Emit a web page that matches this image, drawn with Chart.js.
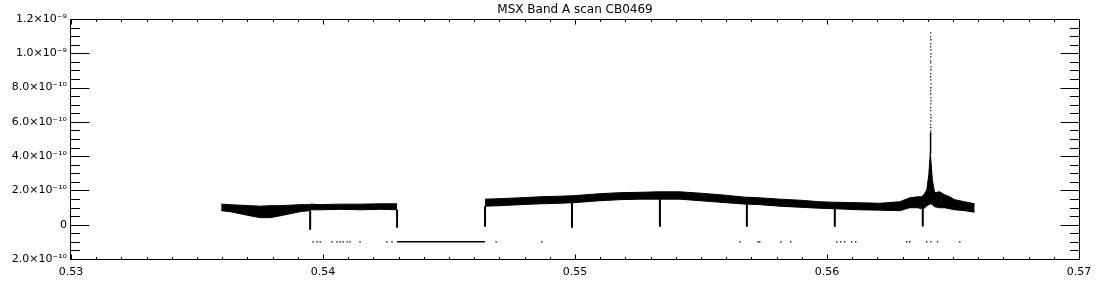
<!DOCTYPE html>
<html>
<head>
<meta charset="utf-8">
<script src="https://cdn.jsdelivr.net/npm/chart.js@4/dist/chart.umd.min.js"></script>
<style>
  body { margin: 0; background: #fff; }
  canvas { display: block; }
</style>
</head>
<body>
<canvas id="chart" width="1100" height="300" style="width:1100px;height:300px"></canvas>
<script>
// axis ticks (majors carry a label, minors are drawn as short marks)
var xMajor = [0.53, 0.54, 0.55, 0.56, 0.57];
var xTickLabels = ['0.53', '0.54', '0.55', '0.56', '0.57'];
var yMajor = [-2e-10, 0, 2e-10, 4e-10, 6e-10, 8e-10, 1.0e-9, 1.2e-9];
var yTickLabels = ['2.0×10⁻¹⁰', '0', '2.0×10⁻¹⁰', '4.0×10⁻¹⁰', '6.0×10⁻¹⁰', '8.0×10⁻¹⁰', '1.0×10⁻⁹', '1.2×10⁻⁹'];
var X_MINOR = 10, Y_MINOR = 4;

// first scan segment: upper / lower edge of the noise band
var seg1X = [0.53596, 0.53632, 0.53671, 0.53711, 0.53751, 0.53790, 0.53830, 0.53870,
             0.53909, 0.53945, 0.53953, 0.53989, 0.54068, 0.54147, 0.54227, 0.54294];
var seg1Hi = [1.20e-10, 1.17e-10, 1.14e-10, 1.11e-10, 1.08e-10, 1.11e-10, 1.11e-10, 1.14e-10,
              1.17e-10, 1.17e-10, 1.20e-10, 1.17e-10, 1.20e-10, 1.20e-10, 1.22e-10, 1.22e-10];
var seg1Lo = [8.2e-11, 7.6e-11, 6.4e-11, 5.2e-11, 4.1e-11, 4.1e-11, 5.2e-11, 6.4e-11,
              7.6e-11, 8.2e-11, 8.7e-11, 8.7e-11, 9.0e-11, 8.7e-11, 9.0e-11, 8.7e-11];

// second scan segment
var seg2X = [0.54643, 0.54702, 0.54782, 0.54861, 0.54940, 0.54984, 0.54992, 0.55099, 0.55178,
             0.55258, 0.55333, 0.55341, 0.55416, 0.55496, 0.55575, 0.55678, 0.55686, 0.55733,
             0.55813, 0.55892, 0.55971, 0.56027, 0.56035, 0.56130, 0.56209, 0.56289, 0.56328,
             0.56360, 0.56376, 0.56384, 0.56396, 0.56404, 0.56410, 0.56418, 0.56427, 0.56447,
             0.56467, 0.56487, 0.56507, 0.56546, 0.56586];
var seg2Hi = [1.49e-10, 1.52e-10, 1.57e-10, 1.63e-10, 1.66e-10, 1.69e-10, 1.69e-10, 1.81e-10, 1.87e-10,
              1.89e-10, 1.92e-10, 1.92e-10, 1.92e-10, 1.84e-10, 1.75e-10, 1.60e-10, 1.60e-10, 1.57e-10,
              1.49e-10, 1.43e-10, 1.34e-10, 1.31e-10, 1.31e-10, 1.28e-10, 1.25e-10, 1.34e-10, 1.57e-10,
              1.63e-10, 1.63e-10, 1.75e-10, 2.04e-10, 2.92e-10, 4.20e-10, 2.62e-10, 1.87e-10, 1.92e-10,
              1.75e-10, 1.63e-10, 1.46e-10, 1.34e-10, 1.22e-10];
var seg2Lo = [1.08e-10, 1.11e-10, 1.17e-10, 1.22e-10, 1.25e-10, 1.28e-10, 1.28e-10, 1.40e-10, 1.46e-10,
              1.49e-10, 1.49e-10, 1.49e-10, 1.49e-10, 1.40e-10, 1.31e-10, 1.20e-10, 1.20e-10, 1.17e-10,
              1.08e-10, 1.02e-10, 9.6e-11, 9.3e-11, 9.3e-11, 8.7e-11, 8.5e-11, 8.2e-11, 9.9e-11,
              9.9e-11, 9.3e-11, 9.3e-11, 1.11e-10, 1.17e-10, 1.22e-10, 1.17e-10, 1.05e-10, 9.9e-11,
              9.9e-11, 9.3e-11, 8.7e-11, 8.2e-11, 7.3e-11];

// downward glitches at the segment joins
var dipX = [0.53949, 0.54294, 0.54643, 0.54988, 0.55337, 0.55682, 0.56031, 0.56380];
var dipTop = [8.2e-11, 8.7e-11, 1.08e-10, 1.28e-10, 1.49e-10, 1.20e-10, 9.3e-11, 9.3e-11];
var dipBottom = [-2.9e-11, -1.7e-11, -1.2e-11, -1.7e-11, -1.2e-11, -1.2e-11, -1.2e-11, -1.0e-11];

// flagged samples sitting at the floor level
var gapX = [0.54294, 0.54643];
var gapY = [-1.0e-10, -1.0e-10];
var floorX = [0.53961, 0.53977, 0.53989, 0.54036, 0.54056, 0.54068, 0.54080, 0.54096, 0.54107,
              0.54147, 0.54254, 0.54274, 0.54687, 0.54868, 0.55654, 0.55726, 0.55733, 0.55817,
              0.55856, 0.56039, 0.56055, 0.56070, 0.56098, 0.56114, 0.56316, 0.56328, 0.56396,
              0.56412, 0.56439, 0.56527];
var floorY = [-1.0e-10, -1.0e-10, -1.0e-10, -1.0e-10, -1.0e-10, -1.0e-10, -1.0e-10, -1.0e-10, -1.0e-10,
              -1.0e-10, -1.0e-10, -1.0e-10, -1.0e-10, -1.0e-10, -1.0e-10, -1.0e-10, -1.0e-10, -1.0e-10,
              -1.0e-10, -1.0e-10, -1.0e-10, -1.0e-10, -1.0e-10, -1.0e-10, -1.0e-10, -1.0e-10, -1.0e-10,
              -1.0e-10, -1.0e-10, -1.0e-10];

// point source crossing: solid core, then sparse samples up to the peak
var coreX = [0.56410, 0.56411];
var coreY = [4.2e-10, 5.4e-10];
var spikeX = [0.56412, 0.56411, 0.56413, 0.56412, 0.56411, 0.56412, 0.56413, 0.56412, 0.56411, 0.56412,
              0.56413, 0.56412, 0.56412, 0.56411, 0.56412, 0.56413, 0.56412, 0.56411, 0.56412, 0.56412,
              0.56413, 0.56412, 0.56411, 0.56412, 0.56412, 0.56413, 0.56412, 0.56411, 0.56412, 0.56412];
var spikeY = [1.119e-9, 1.096e-9, 1.079e-9, 1.055e-9, 1.038e-9, 1.020e-9, 9.97e-10, 9.79e-10, 9.56e-10, 9.44e-10,
              9.21e-10, 9.04e-10, 8.80e-10, 8.63e-10, 8.45e-10, 8.22e-10, 7.99e-10, 7.81e-10, 7.64e-10, 7.40e-10,
              7.23e-10, 7.05e-10, 6.82e-10, 6.65e-10, 6.41e-10, 6.24e-10, 6.06e-10, 5.83e-10, 5.66e-10, 5.48e-10];

function pts(xs, ys) {
  return xs.map(function(x, i) { return {x: x, y: ys[i]}; });
}

function dipPts() {
  var out = [];
  dipX.forEach(function(x, i) {
    out.push({x: x, y: dipTop[i]}, {x: x, y: dipBottom[i]}, {x: x, y: null});
  });
  return out;
}

// ticks = majors plus evenly split minors between them
function withMinors(majors, n) {
  var t = [];
  for (var i = 0; i < majors.length - 1; i++) {
    for (var j = 0; j < n; j++) {
      t.push({value: majors[i] + (majors[i + 1] - majors[i]) * j / n});
    }
  }
  t.push({value: majors[majors.length - 1]});
  return t;
}

// IDL style box: frame on all four sides, ticks pointing inward
var frameTicks = {
  id: 'frameTicks',
  afterDraw: function(chart) {
    var ctx = chart.ctx, a = chart.chartArea;
    var xs = chart.scales.x, ys = chart.scales.y;
    var x0 = Math.round(a.left) - 0.5, x1 = Math.round(a.right) + 0.5;
    var y0 = Math.round(a.top) + 0.5, y1 = Math.round(a.bottom) + 0.5;
    ctx.save();
    ctx.strokeStyle = '#000';
    ctx.lineWidth = 1;
    ctx.beginPath();
    ctx.rect(x0, y0, x1 - x0, y1 - y0);
    xs.ticks.forEach(function(t, i) {
      var p = Math.round(xs.getPixelForValue(t.value)) + 0.5;
      var len = i % X_MINOR === 0 ? 5 : 2.5;
      ctx.moveTo(p, y1); ctx.lineTo(p, y1 - len);
      ctx.moveTo(p, y0); ctx.lineTo(p, y0 + len);
    });
    ys.ticks.forEach(function(t, i) {
      var p = Math.round(ys.getPixelForValue(t.value)) + 0.5;
      var len = i % Y_MINOR === 0 ? 19 : 9.5;
      ctx.moveTo(x0, p); ctx.lineTo(x0 + len, p);
      ctx.moveTo(x1, p); ctx.lineTo(x1 - len, p);
    });
    ctx.stroke();
    ctx.restore();
  }
};

Chart.defaults.font.family = '"DejaVu Sans", sans-serif';
Chart.defaults.font.size = 11;
Chart.defaults.color = '#000';

var band = {showLine: true, borderColor: '#000', borderWidth: 1, pointRadius: 0, tension: 0};

new Chart(document.getElementById('chart'), {
  type: 'scatter',
  data: {
    datasets: [
      Object.assign({data: pts(seg1X, seg1Hi), fill: '+1', backgroundColor: '#000'}, band),
      Object.assign({data: pts(seg1X, seg1Lo), fill: false}, band),
      Object.assign({data: pts(seg2X, seg2Hi), fill: '+1', backgroundColor: '#000'}, band),
      Object.assign({data: pts(seg2X, seg2Lo), fill: false}, band),
      {data: dipPts(), showLine: true, borderColor: '#000', borderWidth: 2, pointRadius: 0},
      {data: pts(gapX, gapY), showLine: true, borderColor: '#000', borderWidth: 1.5, pointRadius: 0},
      {data: pts(coreX, coreY), showLine: true, borderColor: '#000', borderWidth: 1.5, pointRadius: 0},
      {data: pts(floorX, floorY), pointStyle: 'rect', pointRadius: 1, borderWidth: 0, backgroundColor: '#000'},
      {data: pts(spikeX, spikeY), pointStyle: 'rect', pointRadius: 0.9, borderWidth: 0, backgroundColor: '#000'}
    ]
  },
  options: {
    responsive: false,
    devicePixelRatio: 1,
    animation: false,
    events: [],
    layout: {padding: {left: 1, right: 21, top: 0, bottom: 0}},
    plugins: {
      legend: {display: false},
      tooltip: {enabled: false},
      title: {
        display: true,
        text: 'MSX Band A scan CB0469',
        fullSize: false,
        color: '#000',
        font: {size: 12, weight: 'normal'},
        padding: {top: 3, bottom: 1.6}
      }
    },
    scales: {
      x: {
        type: 'linear',
        min: 0.53, max: 0.57,
        grid: {display: false, drawTicks: false},
        border: {display: false},
        afterBuildTicks: function(s) { s.ticks = withMinors(xMajor, X_MINOR); },
        afterFit: function(s) { s.height = 41; },
        ticks: {
          autoSkip: false, maxRotation: 0, minRotation: 0, padding: 7,
          callback: function(v, i) { return i % X_MINOR === 0 ? xTickLabels[i / X_MINOR] : ''; }
        }
      },
      y: {
        type: 'linear',
        min: -2e-10, max: 1.2e-9,
        grid: {display: false, drawTicks: false},
        border: {display: false},
        afterBuildTicks: function(s) { s.ticks = withMinors(yMajor, Y_MINOR); },
        afterFit: function(s) { s.width = 70; },
        ticks: {
          autoSkip: false, padding: 4,
          callback: function(v, i) { return i % Y_MINOR === 0 ? yTickLabels[i / Y_MINOR] : ''; }
        }
      }
    }
  },
  plugins: [frameTicks]
});
</script>
</body>
</html>
